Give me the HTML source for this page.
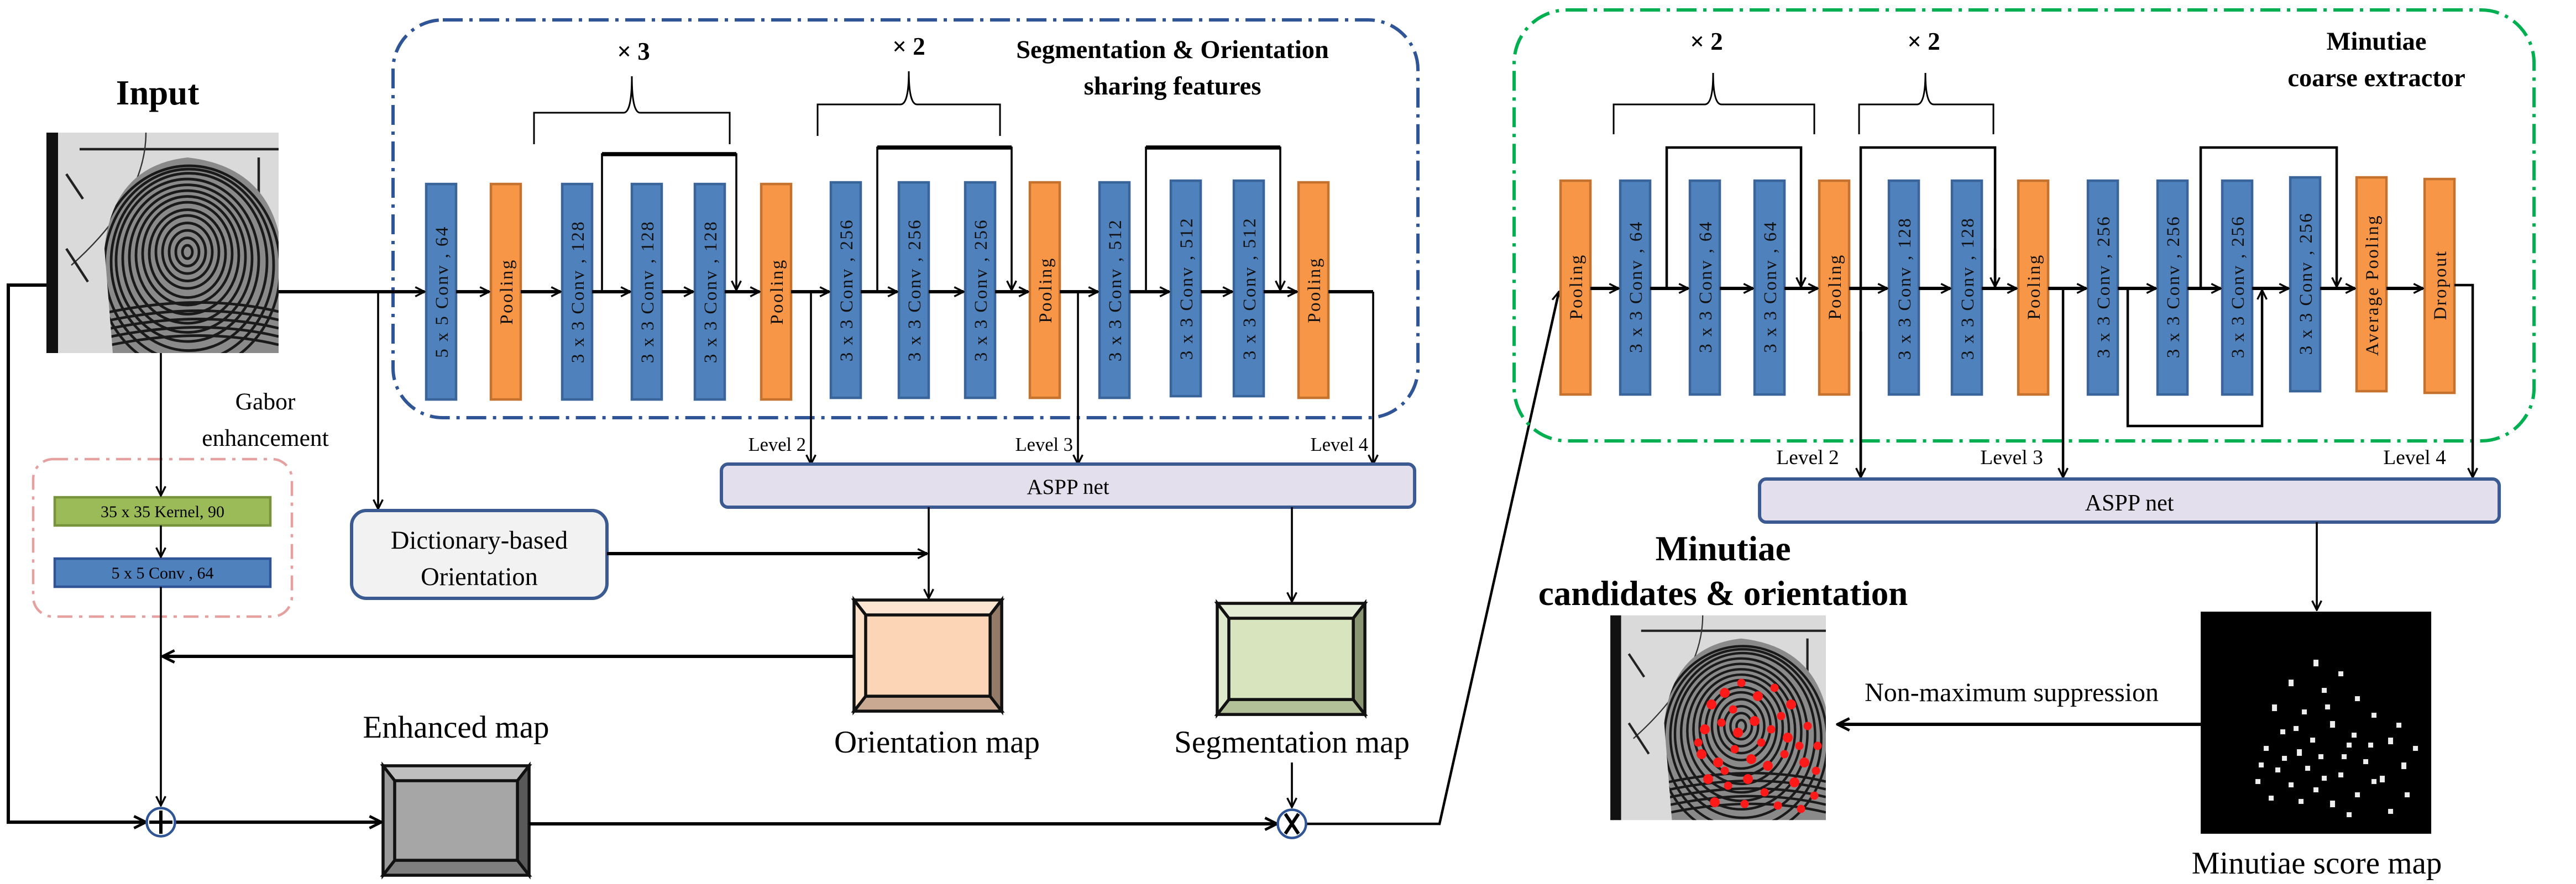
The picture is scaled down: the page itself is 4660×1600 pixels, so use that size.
<!DOCTYPE html>
<html><head><meta charset="utf-8"><style>
html,body{margin:0;padding:0;background:#fff;}
svg{display:block;}
text{font-family:"Liberation Serif",serif;}
</style></head><body>
<svg width="4660" height="1600" viewBox="0 0 1553.3 533.3" xmlns="http://www.w3.org/2000/svg">
<defs>
<marker id="a" viewBox="0 0 10 10" refX="9" refY="5" markerWidth="7" markerHeight="7" orient="auto" markerUnits="userSpaceOnUse"><path d="M1,1 L9,5 L1,9" fill="none" stroke="#000" stroke-width="1.6"/></marker>
<marker id="b" viewBox="0 0 10 10" refX="9" refY="5" markerWidth="9" markerHeight="9" orient="auto" markerUnits="userSpaceOnUse"><path d="M1,1 L9,5 L1,9" fill="none" stroke="#000" stroke-width="1.8"/></marker>
<clipPath id="fpc"><path d="M40,133 L35,70 Q40,20 85,15 Q130,20 140,60 L140,133 Z"/></clipPath>
<symbol id="fp" viewBox="0 0 140 133">
<rect x="0" y="0" width="140" height="133" fill="#dadada"/>
<rect x="0" y="0" width="7" height="133" fill="#111"/>
<line x1="20" y1="10" x2="140" y2="10" stroke="#222" stroke-width="1.5"/>
<path d="M60,0 Q60,40 15,80" fill="none" stroke="#333" stroke-width="0.8"/>
<path d="M12,70 L25,90 M12,25 L22,40 M128,15 L128,50" stroke="#222" stroke-width="1.5"/>
<g clip-path="url(#fpc)" fill="none" stroke="#1a1a1a" stroke-width="1.6">
<rect x="30" y="10" width="110" height="123" fill="#8a8a8a" stroke="none"/>
<ellipse cx="85" cy="72" rx="3" ry="4"/><ellipse cx="85" cy="72" rx="7" ry="8.5"/><ellipse cx="85" cy="72" rx="11" ry="13"/>
<ellipse cx="85" cy="72" rx="15" ry="17.5"/><ellipse cx="85" cy="72" rx="19" ry="22"/><ellipse cx="85" cy="73" rx="23" ry="26.5"/>
<ellipse cx="85" cy="73" rx="27" ry="31"/><ellipse cx="85" cy="74" rx="31" ry="35.5"/><ellipse cx="85" cy="75" rx="35" ry="40"/>
<ellipse cx="85" cy="76" rx="39" ry="44.5"/><ellipse cx="85" cy="77" rx="43" ry="49"/><ellipse cx="86" cy="78" rx="47" ry="53.5"/>
<ellipse cx="86" cy="80" rx="51" ry="58"/><ellipse cx="86" cy="82" rx="55" ry="62"/>
<path d="M30,110 Q90,96 140,108 M30,115 Q90,101 140,113 M30,120 Q90,106 140,118 M30,125 Q90,111 140,123 M30,130 Q90,116 140,128"/>
</g>
</symbol>
</defs>

<!-- ============ LEFT ============ -->
<text x="95" y="63" font-size="21" font-weight="bold" text-anchor="middle">Input</text>
<use href="#fp" x="28" y="80" width="140" height="133"/>

<rect x="237" y="12" width="618" height="240" rx="30" fill="none" stroke="#2f5597" stroke-width="2" stroke-dasharray="12,4,2,4"/>
<text x="707" y="35" font-size="15.5" font-weight="bold" text-anchor="middle">Segmentation &amp; Orientation</text>
<text x="707" y="57" font-size="15.5" font-weight="bold" text-anchor="middle">sharing features</text>
<text x="382" y="36" font-size="15" font-weight="bold" text-anchor="middle">× 3</text>
<text x="548" y="33" font-size="15" font-weight="bold" text-anchor="middle">× 2</text>
<path d="M322,87 V68 H376 Q381,68 381,46 Q381,68 386,68 H440 V87" fill="none" stroke="#000" stroke-width="1"/>
<path d="M493,82 V63 H543 Q548,63 548,43 Q548,63 553,63 H603 V82" fill="none" stroke="#000" stroke-width="1"/>

<g stroke-width="1.5">
<rect x="257" y="111" width="18" height="130" fill="#4f81bd" stroke="#3a659a"/>
<rect x="296" y="111" width="18" height="130" fill="#f79646" stroke="#c5722f"/>
<rect x="339" y="111" width="18" height="130" fill="#4f81bd" stroke="#3a659a"/>
<rect x="381" y="111" width="18" height="130" fill="#4f81bd" stroke="#3a659a"/>
<rect x="419" y="111" width="18" height="130" fill="#4f81bd" stroke="#3a659a"/>
<rect x="459" y="111" width="18" height="130" fill="#f79646" stroke="#c5722f"/>
<rect x="501" y="110" width="18" height="130" fill="#4f81bd" stroke="#3a659a"/>
<rect x="542" y="110" width="18" height="130" fill="#4f81bd" stroke="#3a659a"/>
<rect x="582" y="110" width="18" height="130" fill="#4f81bd" stroke="#3a659a"/>
<rect x="621" y="110" width="18" height="130" fill="#f79646" stroke="#c5722f"/>
<rect x="663" y="110" width="18" height="130" fill="#4f81bd" stroke="#3a659a"/>
<rect x="706" y="109" width="18" height="130" fill="#4f81bd" stroke="#3a659a"/>
<rect x="744" y="109" width="18" height="130" fill="#4f81bd" stroke="#3a659a"/>
<rect x="783" y="110" width="18" height="130" fill="#f79646" stroke="#c5722f"/>
</g>
<g font-size="11" text-anchor="middle" fill="#111" letter-spacing="0.8">
<text transform="translate(270,176) rotate(-90)">5 x 5 Conv , 64</text>
<text transform="translate(309,176) rotate(-90)">Pooling</text>
<text transform="translate(352,176) rotate(-90)">3 x 3 Conv , 128</text>
<text transform="translate(394,176) rotate(-90)">3 x 3 Conv , 128</text>
<text transform="translate(432,176) rotate(-90)">3 x 3 Conv , 128</text>
<text transform="translate(472,176) rotate(-90)">Pooling</text>
<text transform="translate(514,175) rotate(-90)">3 x 3 Conv , 256</text>
<text transform="translate(555,175) rotate(-90)">3 x 3 Conv , 256</text>
<text transform="translate(595,175) rotate(-90)">3 x 3 Conv , 256</text>
<text transform="translate(634,175) rotate(-90)">Pooling</text>
<text transform="translate(676,175) rotate(-90)">3 x 3 Conv , 512</text>
<text transform="translate(719,174) rotate(-90)">3 x 3 Conv , 512</text>
<text transform="translate(757,174) rotate(-90)">3 x 3 Conv , 512</text>
<text transform="translate(796,175) rotate(-90)">Pooling</text>
</g>

<g stroke="#000" stroke-width="2" fill="none" marker-end="url(#a)">
<line x1="168" y1="176" x2="256" y2="176"/>
<line x1="275" y1="176" x2="295" y2="176"/>
<line x1="314" y1="176" x2="338" y2="176"/>
<line x1="357" y1="176" x2="380" y2="176"/>
<line x1="399" y1="176" x2="418" y2="176"/>
<line x1="437" y1="176" x2="458" y2="176"/>
<line x1="477" y1="176" x2="500" y2="176"/>
<line x1="519" y1="176" x2="541" y2="176"/>
<line x1="560" y1="176" x2="581" y2="176"/>
<line x1="600" y1="176" x2="620" y2="176"/>
<line x1="639" y1="176" x2="662" y2="176"/>
<line x1="681" y1="176" x2="705" y2="176"/>
<line x1="724" y1="176" x2="743" y2="176"/>
<line x1="762" y1="176" x2="782" y2="176"/>
</g>
<line x1="801" y1="176" x2="828" y2="176" stroke="#000" stroke-width="2"/>
<g stroke="#000" stroke-width="1.2" fill="none" marker-end="url(#a)">
<path d="M363,176 V93 H444 V175"/>
<path d="M529,176 V89 H610 V175"/>
<path d="M691,176 V89 H772 V175"/>
</g>
<g stroke="#000" stroke-width="2.5"><line x1="363" y1="93" x2="444" y2="93"/><line x1="529" y1="89" x2="610" y2="89"/><line x1="691" y1="89" x2="772" y2="89"/></g>
<g stroke="#000" stroke-width="1.2" fill="none" marker-end="url(#a)">
<line x1="489" y1="176" x2="489" y2="280"/>
<line x1="650" y1="176" x2="650" y2="280"/>
<line x1="828" y1="176" x2="828" y2="280"/>
</g>
<g font-size="11.5" text-anchor="end"><text x="486" y="272">Level 2</text><text x="647" y="272">Level 3</text><text x="825" y="272">Level 4</text></g>
<rect x="435" y="280" width="418" height="26" rx="4" fill="#e4dfec" stroke="#3c5a92" stroke-width="2"/>
<text x="644" y="298" font-size="13" text-anchor="middle">ASPP net</text>

<text x="160" y="247" font-size="14.5" text-anchor="middle">Gabor</text>
<text x="160" y="269" font-size="14.5" text-anchor="middle">enhancement</text>
<rect x="20" y="277" width="156" height="95" rx="12" fill="none" stroke="#e6a0a0" stroke-width="1.5" stroke-dasharray="9,4,2,4"/>
<rect x="33" y="300" width="130" height="17" fill="#9bbb59" stroke="#77933c" stroke-width="1.5"/>
<text x="98" y="312" font-size="10" text-anchor="middle">35 x 35 Kernel, 90</text>
<rect x="33" y="337" width="130" height="17" fill="#4f81bd" stroke="#2f5597" stroke-width="1.5"/>
<text x="98" y="349" font-size="10" text-anchor="middle">5 x 5 Conv , 64</text>
<g stroke="#000" stroke-width="1.2" fill="none" marker-end="url(#a)">
<line x1="97" y1="213" x2="97" y2="299"/>
<line x1="97" y1="317" x2="97" y2="336"/>
<line x1="97" y1="354" x2="97" y2="486"/>
<path d="M228,176 V307"/>
</g>

<rect x="212" y="308" width="154" height="53" rx="9" fill="#f2f2f2" stroke="#3c5a92" stroke-width="2"/>
<text x="289" y="331" font-size="15.5" text-anchor="middle">Dictionary-based</text>
<text x="289" y="353" font-size="15.5" text-anchor="middle">Orientation</text>
<line x1="366" y1="334" x2="559" y2="334" stroke="#000" stroke-width="2" marker-end="url(#a)"/>
<g stroke="#000" stroke-width="1.2" marker-end="url(#a)">
<line x1="560" y1="306" x2="560" y2="361"/>
<line x1="779" y1="306" x2="779" y2="363"/>
</g>

<g stroke="#111" stroke-width="1.8">
<rect x="515" y="362" width="89" height="67" fill="#fbd5b5"/>
<polygon points="515,362 604,362 597,371 522,371" fill="#fde5d2"/>
<polygon points="515,429 604,429 597,420 522,420" fill="#c9a991"/>
<polygon points="604,362 604,429 597,420 597,371" fill="#937a66"/>
<polygon points="515,362 515,429 522,420 522,371" fill="#fce0c8"/>
<rect x="522" y="371" width="75" height="49" fill="#fbd5b5"/>
</g>
<text x="565" y="454" font-size="19" text-anchor="middle">Orientation map</text>
<g stroke="#111" stroke-width="1.8">
<rect x="734" y="364" width="89" height="67" fill="#d7e4bd"/>
<polygon points="734,364 823,364 816,373 741,373" fill="#e4ecd5"/>
<polygon points="734,431 823,431 816,422 741,422" fill="#b3c198"/>
<polygon points="823,364 823,431 816,422 816,373" fill="#8a9571"/>
<polygon points="734,364 734,431 741,422 741,373" fill="#dfe9cb"/>
<rect x="741" y="373" width="75" height="49" fill="#d7e4bd"/>
</g>
<text x="779" y="454" font-size="19" text-anchor="middle">Segmentation map</text>
<line x1="515" y1="396" x2="98" y2="396" stroke="#000" stroke-width="2" marker-end="url(#b)"/>

<text x="275" y="445" font-size="19" text-anchor="middle">Enhanced map</text>
<g stroke="#111" stroke-width="1.8">
<rect x="231" y="462" width="88" height="66" fill="#a6a6a6"/>
<polygon points="231,462 319,462 312,471 238,471" fill="#bfbfbf"/>
<polygon points="231,528 319,528 312,519 238,519" fill="#7f7f7f"/>
<polygon points="319,462 319,528 312,519 312,471" fill="#595959"/>
<polygon points="231,462 231,528 238,519 238,471" fill="#9a9a9a"/>
<rect x="238" y="471" width="74" height="48" fill="#a6a6a6"/>
</g>

<g stroke="#000" stroke-width="2" fill="none">
<path d="M28,172 H5 V496 H88" marker-end="url(#b)"/>
<line x1="106" y1="496" x2="230" y2="496" marker-end="url(#b)"/>
<line x1="319" y1="497" x2="770" y2="497" marker-end="url(#b)"/>
<path d="M788,497 H868 L940,176" marker-end="url(#a)" stroke-width="1.5"/>
</g>
<line x1="779" y1="460" x2="779" y2="487" stroke="#000" stroke-width="1.2" marker-end="url(#a)"/>
<circle cx="97" cy="496" r="8.5" fill="#fff" stroke="#2f5597" stroke-width="1.5"/>
<path d="M97,489 V503 M90,496 H104" stroke="#000" stroke-width="2"/>
<circle cx="779" cy="497" r="8.5" fill="#fff" stroke="#2f5597" stroke-width="1.5"/>
<path d="M775,491 L783,503 M783,491 L775,503" stroke="#000" stroke-width="2"/>

<!-- ============ RIGHT ============ -->
<rect x="913" y="6" width="615" height="260" rx="32" fill="none" stroke="#00b050" stroke-width="2" stroke-dasharray="12,4,2,4"/>
<text x="1433" y="30" font-size="15.5" font-weight="bold" text-anchor="middle">Minutiae</text>
<text x="1433" y="52" font-size="15.5" font-weight="bold" text-anchor="middle">coarse extractor</text>
<text x="1029" y="30" font-size="15" font-weight="bold" text-anchor="middle">× 2</text>
<text x="1160" y="30" font-size="15" font-weight="bold" text-anchor="middle">× 2</text>
<path d="M973,81 V63 H1028 Q1033,63 1033,44 Q1033,63 1038,63 H1094 V81" fill="none" stroke="#000" stroke-width="1"/>
<path d="M1121,81 V63 H1156 Q1161,63 1161,44 Q1161,63 1166,63 H1202 V81" fill="none" stroke="#000" stroke-width="1"/>

<g stroke-width="1.5">
<rect x="941" y="109" width="18" height="129" fill="#f79646" stroke="#c5722f"/>
<rect x="977" y="109" width="18" height="129" fill="#4f81bd" stroke="#3a659a"/>
<rect x="1019" y="109" width="18" height="129" fill="#4f81bd" stroke="#3a659a"/>
<rect x="1058" y="109" width="18" height="129" fill="#4f81bd" stroke="#3a659a"/>
<rect x="1097" y="109" width="18" height="129" fill="#f79646" stroke="#c5722f"/>
<rect x="1139" y="109" width="18" height="129" fill="#4f81bd" stroke="#3a659a"/>
<rect x="1177" y="109" width="18" height="129" fill="#4f81bd" stroke="#3a659a"/>
<rect x="1217" y="109" width="18" height="129" fill="#f79646" stroke="#c5722f"/>
<rect x="1259" y="109" width="18" height="129" fill="#4f81bd" stroke="#3a659a"/>
<rect x="1301" y="109" width="18" height="129" fill="#4f81bd" stroke="#3a659a"/>
<rect x="1340" y="109" width="18" height="129" fill="#4f81bd" stroke="#3a659a"/>
<rect x="1381" y="107" width="18" height="129" fill="#4f81bd" stroke="#3a659a"/>
<rect x="1421" y="107" width="18" height="129" fill="#f79646" stroke="#c5722f"/>
<rect x="1462" y="108" width="18" height="129" fill="#f79646" stroke="#c5722f"/>
</g>
<g font-size="11" text-anchor="middle" fill="#111" letter-spacing="0.8">
<text transform="translate(954,173) rotate(-90)">Pooling</text>
<text transform="translate(990,173) rotate(-90)">3 x 3 Conv , 64</text>
<text transform="translate(1032,173) rotate(-90)">3 x 3 Conv , 64</text>
<text transform="translate(1071,173) rotate(-90)">3 x 3 Conv , 64</text>
<text transform="translate(1110,173) rotate(-90)">Pooling</text>
<text transform="translate(1152,174) rotate(-90)">3 x 3 Conv , 128</text>
<text transform="translate(1190,174) rotate(-90)">3 x 3 Conv , 128</text>
<text transform="translate(1230,173) rotate(-90)">Pooling</text>
<text transform="translate(1272,173) rotate(-90)">3 x 3 Conv , 256</text>
<text transform="translate(1314,173) rotate(-90)">3 x 3 Conv , 256</text>
<text transform="translate(1353,173) rotate(-90)">3 x 3 Conv , 256</text>
<text transform="translate(1394,171) rotate(-90)">3 x 3 Conv , 256</text>
<text transform="translate(1434,172) rotate(-90)">Average Pooling</text>
<text transform="translate(1475,172) rotate(-90)">Dropout</text>
</g>
<g stroke="#000" stroke-width="2" fill="none" marker-end="url(#a)">
<line x1="959" y1="174" x2="976" y2="174"/>
<line x1="995" y1="174" x2="1018" y2="174"/>
<line x1="1037" y1="174" x2="1057" y2="174"/>
<line x1="1076" y1="174" x2="1096" y2="174"/>
<line x1="1115" y1="174" x2="1138" y2="174"/>
<line x1="1157" y1="174" x2="1176" y2="174"/>
<line x1="1195" y1="174" x2="1216" y2="174"/>
<line x1="1235" y1="174" x2="1258" y2="174"/>
<line x1="1277" y1="174" x2="1300" y2="174"/>
<line x1="1319" y1="174" x2="1339" y2="174"/>
<line x1="1358" y1="174" x2="1380" y2="174"/>
<line x1="1399" y1="174" x2="1420" y2="174"/>
<line x1="1439" y1="174" x2="1461" y2="174"/>
</g>
<g stroke="#000" stroke-width="1.5" fill="none" marker-end="url(#a)">
<path d="M1005,174 V89 H1086 V173"/>
<path d="M1122,289 V89 H1203 V173" marker-end="none"/>
<line x1="1203" y1="150" x2="1203" y2="173"/>
<path d="M1327,174 V89 H1409 V173"/>
<path d="M1283,174 V257 H1364 V175"/>
<line x1="1122" y1="200" x2="1122" y2="288"/>
<line x1="1244" y1="174" x2="1244" y2="288"/>
<path d="M1480,172 H1491 V288"/>
</g>
<g font-size="12.5" text-anchor="middle"><text x="1090" y="280">Level 2</text><text x="1213" y="280">Level 3</text><text x="1456" y="280">Level 4</text></g>
<rect x="1061" y="289" width="446" height="26" rx="4" fill="#e4dfec" stroke="#3c5a92" stroke-width="2"/>
<text x="1284" y="308" font-size="14" text-anchor="middle">ASPP net</text>
<line x1="1397" y1="315" x2="1397" y2="368" stroke="#000" stroke-width="1.2" marker-end="url(#a)"/>

<text x="1039" y="338" font-size="21" font-weight="bold" text-anchor="middle">Minutiae</text>
<text x="1039" y="365" font-size="21" font-weight="bold" text-anchor="middle">candidates &amp; orientation</text>
<use href="#fp" x="971" y="371" width="130" height="124"/>
<g fill="#ff1a1a">
<circle cx="1032" cy="425" r="3"/><circle cx="1040" cy="418" r="3"/><circle cx="1050" cy="412" r="2.5"/><circle cx="1060" cy="420" r="3"/>
<circle cx="1070" cy="415" r="2.5"/><circle cx="1080" cy="425" r="3"/><circle cx="1028" cy="440" r="3"/><circle cx="1038" cy="436" r="2.5"/>
<circle cx="1048" cy="442" r="3"/><circle cx="1058" cy="435" r="3"/><circle cx="1068" cy="440" r="2.5"/><circle cx="1078" cy="445" r="3"/>
<circle cx="1090" cy="438" r="2.5"/><circle cx="1026" cy="455" r="3"/><circle cx="1036" cy="460" r="3"/><circle cx="1046" cy="452" r="2.5"/>
<circle cx="1056" cy="458" r="3"/><circle cx="1066" cy="462" r="3"/><circle cx="1076" cy="455" r="2.5"/><circle cx="1088" cy="460" r="3"/>
<circle cx="1030" cy="470" r="3"/><circle cx="1042" cy="474" r="2.5"/><circle cx="1054" cy="470" r="3"/><circle cx="1064" cy="478" r="2.5"/>
<circle cx="1082" cy="472" r="3"/><circle cx="1094" cy="480" r="2.5"/><circle cx="1034" cy="484" r="3"/><circle cx="1072" cy="486" r="2.5"/>
<circle cx="1045" cy="428" r="2.5"/><circle cx="1085" cy="450" r="2.5"/><circle cx="1095" cy="465" r="2.5"/>
<circle cx="1024" cy="448" r="2.5"/><circle cx="1052" cy="485" r="2.5"/><circle cx="1062" cy="448" r="2.5"/><circle cx="1074" cy="432" r="2.5"/>
<circle cx="1096" cy="450" r="2.5"/><circle cx="1040" cy="465" r="2.5"/><circle cx="1086" cy="488" r="2.5"/>
</g>
<rect x="1327" y="369" width="139" height="134" fill="#000"/>
<g fill="#eee">
<rect x="1395" y="398" width="3" height="4"/><rect x="1410" y="405" width="3" height="3"/><rect x="1380" y="410" width="3" height="4"/><rect x="1400" y="415" width="3" height="3"/>
<rect x="1420" y="420" width="3" height="3"/><rect x="1370" y="425" width="3" height="4"/><rect x="1388" y="428" width="3" height="3"/><rect x="1430" y="430" width="3" height="3"/>
<rect x="1405" y="435" width="3" height="4"/><rect x="1375" y="440" width="3" height="3"/><rect x="1418" y="442" width="3" height="3"/><rect x="1440" y="445" width="3" height="4"/>
<rect x="1365" y="450" width="3" height="3"/><rect x="1385" y="452" width="3" height="4"/><rect x="1398" y="455" width="3" height="3"/><rect x="1425" y="458" width="3" height="3"/>
<rect x="1448" y="460" width="3" height="4"/><rect x="1372" y="463" width="3" height="3"/><rect x="1410" y="466" width="3" height="3"/><rect x="1435" y="468" width="3" height="4"/>
<rect x="1380" y="472" width="3" height="3"/><rect x="1395" y="475" width="3" height="3"/><rect x="1420" y="478" width="3" height="3"/><rect x="1450" y="478" width="3" height="3"/>
<rect x="1368" y="480" width="3" height="3"/><rect x="1405" y="483" width="3" height="4"/><rect x="1440" y="488" width="3" height="3"/><rect x="1390" y="462" width="3" height="3"/>
<rect x="1415" y="448" width="3" height="3"/><rect x="1360" y="470" width="3" height="3"/><rect x="1445" y="436" width="3" height="3"/>
<rect x="1402" y="425" width="3" height="3"/><rect x="1383" y="438" width="3" height="3"/><rect x="1428" y="448" width="3" height="3"/><rect x="1393" y="445" width="3" height="3"/>
<rect x="1412" y="455" width="3" height="3"/><rect x="1376" y="456" width="3" height="3"/><rect x="1455" y="450" width="3" height="3"/><rect x="1430" y="470" width="3" height="3"/>
<rect x="1386" y="482" width="3" height="3"/><rect x="1415" y="490" width="3" height="3"/><rect x="1362" y="460" width="3" height="3"/><rect x="1400" y="468" width="3" height="3"/>
</g>
<text x="1213" y="423" font-size="16" text-anchor="middle">Non-maximum suppression</text>
<line x1="1327" y1="437" x2="1108" y2="437" stroke="#000" stroke-width="2" marker-end="url(#b)"/>
<text x="1397" y="527" font-size="19" text-anchor="middle">Minutiae score map</text>
</svg>
</body></html>
